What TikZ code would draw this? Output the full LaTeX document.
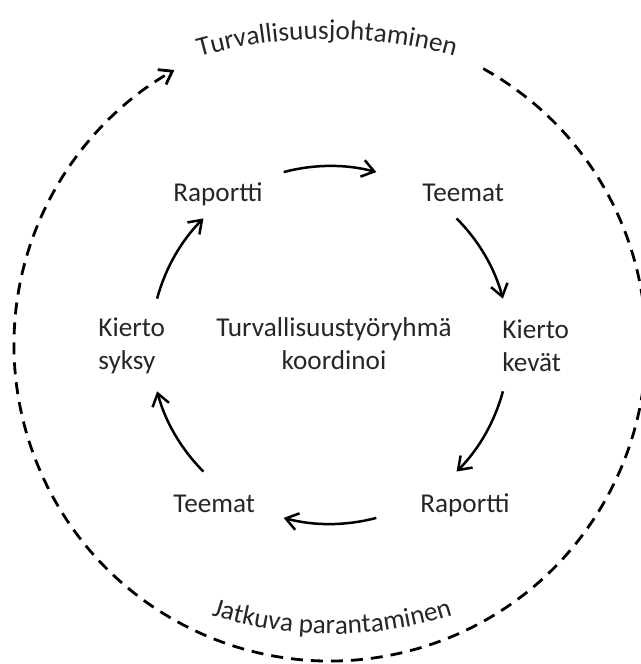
\documentclass[tikz,border=0pt]{standalone}
\usepackage{fontspec}
\setmainfont{Carlito}
\usetikzlibrary{arrows.meta}
\usetikzlibrary{decorations.text}
\tikzset{>={Straight Barb[length=6pt,width=8.5pt]}}
\tikzstyle{kierto}=[line width=1.25pt,->]
\tikzstyle{katko}=[line width=1.4pt,dash pattern=on 6pt off 4pt,->]
\tikzstyle{teksti}=[font=\fontsize{13.6}{16.5}\selectfont,text=black!85,inner sep=0pt]
\newcommand\kaarifontti{\fontsize{13.6}{16.5}\selectfont\color{black!85}}

\begin{document}
\begin{tikzpicture}[x=0.5pt,y=0.5pt]
  \useasboundingbox (0,0) rectangle (641,664);
  \coordinate (o) at (330,319);
  \node[teksti,align=center,anchor=base] (koord) at (334,294) {Turvallisuustyöryhmä\\koordinoi};
  \node[teksti,anchor=base] (rapT) at (218,462) {Raportti};
  \node[teksti,anchor=base west] (teeT) at (422,462) {Teemat};
  \node[teksti,align=left,anchor=base west] (kevat) at (502,292) {Kierto\\kevät};
  \node[teksti,anchor=base west] (rapB) at (420,151) {Raportti};
  \node[teksti,anchor=base west] (teeB) at (173,151) {Teemat};
  \node[teksti,align=left,anchor=base west] (syksy) at (98,294) {Kierto\\syksy};
  \foreach \a in {105,45,-15,-75,-135,-195}
    \draw[kierto] (o) ++(\a:179) arc[start angle=\a,end angle=\a-30,radius=179];
  \draw[katko] (o) ++(61:316) arc[start angle=61,end angle=-240.5,radius=316];
  \path[decorate,decoration={text along path,text align=center,
    text={|\kaarifontti|Turvallisuusjohtaminen}}]
    (327,155) ++(115:470) arc[start angle=115,end angle=65,radius=470];
  \path[decorate,decoration={text along path,text align=center,
    text={|\kaarifontti|Jatkuva parantaminen}}]
    (332,427) ++(245:397) arc[start angle=245,end angle=295,radius=397];
\end{tikzpicture}
\end{document}
